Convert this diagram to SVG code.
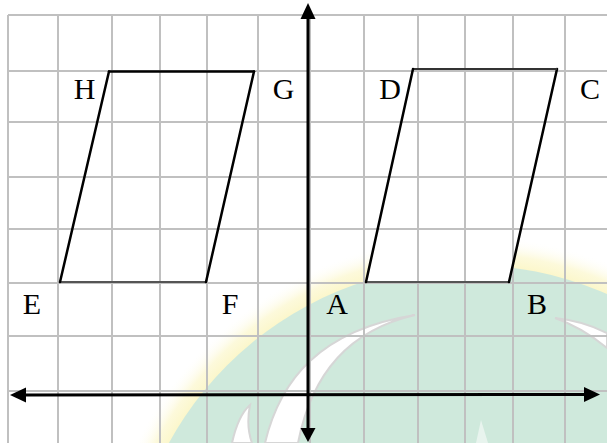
<svg xmlns="http://www.w3.org/2000/svg" width="607" height="443" viewBox="0 0 607 443">
<style>
.grid line{stroke:#c0c0c0;stroke-width:2}
.side{stroke:#000;stroke-width:2.5;fill:none;stroke-linecap:round}
.base{stroke:#555;stroke-width:2;fill:none}
.axis{stroke:#000;stroke-width:3}
.head{fill:#000}
.lbl{font-family:"Liberation Serif","Times New Roman",serif;font-size:30px;fill:#000;text-anchor:middle}
.swoosh{fill:#ffffff;stroke:#d6d6d6;stroke-width:2}
</style>
<defs>
<radialGradient id="ring" gradientUnits="userSpaceOnUse" cx="469" cy="607" r="372">
<stop offset="0.9" stop-color="#fbf5c0" stop-opacity="1"/>
<stop offset="0.95" stop-color="#fcf8d2" stop-opacity="0.8"/>
<stop offset="1" stop-color="#ffffff" stop-opacity="0"/>
</radialGradient>
</defs>
<rect x="0" y="0" width="607" height="443" fill="#ffffff"/>
<g id="watermark">
<circle cx="469" cy="607" r="372" fill="url(#ring)"/>
<circle cx="469" cy="607" r="342" fill="#cfe9dc"/>
<path class="swoosh" d="M 265 443 C 280 380 320 330 415 315 C 350 330 312 372 298 443 Z"/>
<path class="swoosh" d="M 232 443 C 236 425 242 412 250 405 C 247 420 248 432 252 443 Z"/>
<path class="swoosh" d="M 555 318 C 575 320 595 327 607 333 L 607 348 C 595 338 575 325 555 318 Z"/>
<path fill="#e8f4ee" d="M 476 443 L 481 420 L 488 443 Z"/>
</g>
<g id="fills">
<polygon points="60,282 206,282 254,71 109,71" fill="#ffffff"/>
<polygon points="366,282 509,282 557,69 413,69" fill="#ffffff"/>
</g>
<g class="grid" id="grid">
<line x1="8" y1="15" x2="8" y2="443"/>
<line x1="58" y1="15" x2="58" y2="443"/>
<line x1="112" y1="15" x2="112" y2="443"/>
<line x1="160" y1="15" x2="160" y2="443"/>
<line x1="207" y1="15" x2="207" y2="443"/>
<line x1="258" y1="15" x2="258" y2="443"/>
<line x1="310" y1="15" x2="310" y2="443"/>
<line x1="364" y1="15" x2="364" y2="443"/>
<line x1="418" y1="15" x2="418" y2="443"/>
<line x1="465" y1="15" x2="465" y2="443"/>
<line x1="513" y1="15" x2="513" y2="443"/>
<line x1="565" y1="15" x2="565" y2="443"/>
<line x1="8" y1="15" x2="607" y2="15"/>
<line x1="8" y1="71" x2="607" y2="71"/>
<line x1="8" y1="122" x2="607" y2="122"/>
<line x1="8" y1="177" x2="607" y2="177"/>
<line x1="8" y1="229" x2="607" y2="229"/>
<line x1="8" y1="283" x2="607" y2="283"/>
<line x1="8" y1="336" x2="607" y2="336"/>
<line x1="8" y1="391" x2="607" y2="391"/>
</g>
<g id="EFGH">
<line class="base" x1="60" y1="282" x2="206" y2="282"/>
<line class="side" x1="206" y1="282" x2="254" y2="71.5"/>
<line class="side" x1="254" y1="71.5" x2="109" y2="71.5"/>
<line class="side" x1="109" y1="71.5" x2="60" y2="282"/>
</g>
<g id="ABCD">
<line class="base" x1="366" y1="282" x2="509" y2="282"/>
<line class="side" x1="509" y1="282" x2="557" y2="69"/>
<line x1="557" y1="69" x2="413" y2="69" stroke="#333" stroke-width="1.8"/>
<line class="side" x1="413" y1="69" x2="366" y2="282"/>
</g>
<g id="axes">
<line class="axis" x1="24" y1="395" x2="586" y2="394.5"/>
<polygon class="head" points="10,395 26,387.5 26,402.5"/>
<polygon class="head" points="600,394.5 584,387 584,402"/>
<line class="axis" x1="308" y1="17" x2="308" y2="430"/>
<polygon class="head" points="308,3 300.5,19 315.5,19"/>
<polygon class="head" points="308,442 300.5,428 315.5,428"/>
</g>
<g id="labels">
<text class="lbl" x="84.5" y="99">H</text>
<text class="lbl" x="283.5" y="99">G</text>
<text class="lbl" x="390" y="99">D</text>
<text class="lbl" x="590" y="99">C</text>
<text class="lbl" x="32" y="314">E</text>
<text class="lbl" x="230" y="314">F</text>
<text class="lbl" x="337" y="314">A</text>
<text class="lbl" x="537" y="314">B</text>
</g>
</svg>
